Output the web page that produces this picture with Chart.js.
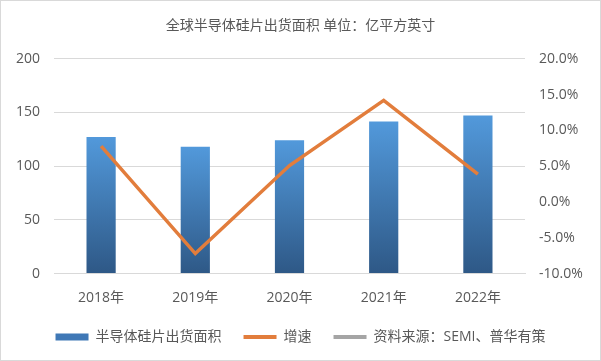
<!DOCTYPE html>
<html>
<head>
<meta charset="utf-8">
<script src="https://cdn.jsdelivr.net/npm/chart.js@4/dist/chart.umd.min.js"></script>
<style>
  html, body { margin: 0; padding: 0; background: #ffffff; }
  #wrap { position: relative; width: 601px; height: 361px; box-sizing: border-box; border: 1px solid #d9d9d9; }
  canvas { display: block; }
</style>
</head>
<body>
<div id="wrap"><canvas id="c" width="599" height="359"></canvas></div>
<script>
const chartTitle = '全球半导体硅片出货面积 单位：亿平方英寸';
const categories = ['2018年', '2019年', '2020年', '2021年', '2022年'];
const areaValues = [127.3, 118.1, 124.1, 141.7, 147.1];
const growthValues = [7.8, -7.2, 5.1, 14.2, 3.9];
const seriesNames = ['半导体硅片出货面积', '增速', '资料来源：SEMI、普华有策'];
const leftTicks = [0, 50, 100, 150, 200];
const rightTicks = [-10, -5, 0, 5, 10, 15, 20];

const FONT = '"Open Sans", "Noto Sans CJK SC", sans-serif';
const TEXT = '#595959';

function barGradient(ctx) {
  const chart = ctx.chart;
  const y = chart.scales && chart.scales.y;
  if (!y || ctx.dataIndex === undefined || !chart.chartArea) return '#4580c0';
  const top = y.getPixelForValue(areaValues[ctx.dataIndex]);
  const bottom = y.getPixelForValue(0);
  const g = chart.ctx.createLinearGradient(0, top, 0, bottom);
  g.addColorStop(0, '#5299db');
  g.addColorStop(1, '#2e5886');
  return g;
}

const cctx = document.getElementById('c').getContext('2d');
new Chart(cctx, {
  data: {
    labels: categories,
    datasets: [
      {
        type: 'line',
        label: seriesNames[1],
        data: growthValues,
        yAxisID: 'y1',
        borderColor: '#e27d3c',
        backgroundColor: '#e27d3c',
        borderWidth: 3.5,
        pointRadius: 0,
        tension: 0,
        order: 0
      },
      {
        type: 'bar',
        label: seriesNames[0],
        data: areaValues,
        yAxisID: 'y',
        backgroundColor: barGradient,
        categoryPercentage: 1,
        barPercentage: 0.31,
        order: 1
      },
      {
        type: 'line',
        label: seriesNames[2],
        data: [],
        yAxisID: 'y1',
        borderColor: '#a5a5a5',
        backgroundColor: '#a5a5a5',
        borderWidth: 3.5,
        pointRadius: 0,
        order: 2
      }
    ]
  },
  options: {
    responsive: false,
    animation: false,
    devicePixelRatio: 1,
    layout: { padding: { left: 0, right: 0, top: 0, bottom: 6 } },
    plugins: {
      title: {
        display: true,
        text: chartTitle,
        color: TEXT,
        font: { family: FONT, size: 14, weight: 'normal' },
        padding: { top: 17, bottom: 24 }
      },
      legend: {
        position: 'bottom',
        labels: {
          color: TEXT,
          font: { family: FONT, size: 14 },
          usePointStyle: true,
          pointStyleWidth: 33,
          boxHeight: 7,
          padding: 22,
          generateLabels: function (chart) {
            const order = [1, 0, 2];
            return order.map(function (i) {
              const ds = chart.data.datasets[i];
              const isBar = ds.type === 'bar';
              return {
                text: ds.label,
                fillStyle: isBar ? '#3f78b6' : ds.backgroundColor,
                strokeStyle: isBar ? 'rgba(0,0,0,0)' : ds.borderColor,
                lineWidth: isBar ? 0 : 4,
                pointStyle: isBar ? 'rect' : 'line',
                fontColor: TEXT,
                hidden: false,
                datasetIndex: i
              };
            });
          }
        }
      },
      tooltip: { enabled: false }
    },
    scales: {
      x: {
        grid: { display: false },
        border: { display: true, color: '#d9d9d9' },
        afterFit: function (axis) { axis.height = axis.height - 6; },
        ticks: { color: TEXT, font: { family: FONT, size: 14, lineHeight: 0.17 }, padding: 15 }
      },
      y: {
        position: 'left',
        min: 0,
        max: 200,
        afterBuildTicks: function (axis) { axis.ticks = leftTicks.map(v => ({ value: v })); },
        afterFit: function (axis) { axis.width = 53; },
        grid: { color: '#d9d9d9', drawTicks: false },
        border: { display: false },
        ticks: { color: TEXT, font: { family: FONT, size: 14 }, padding: 14 }
      },
      y1: {
        position: 'right',
        min: -10,
        max: 20,
        afterBuildTicks: function (axis) { axis.ticks = rightTicks.map(v => ({ value: v })); },
        afterFit: function (axis) { axis.width = 75; },
        grid: { display: false, drawTicks: false },
        border: { display: false },
        ticks: {
          color: TEXT,
          font: { family: FONT, size: 14 },
          padding: 14,
          callback: function (v) { return v.toFixed(1) + '%'; }
        }
      }
    }
  }
});
</script>
</body>
</html>
